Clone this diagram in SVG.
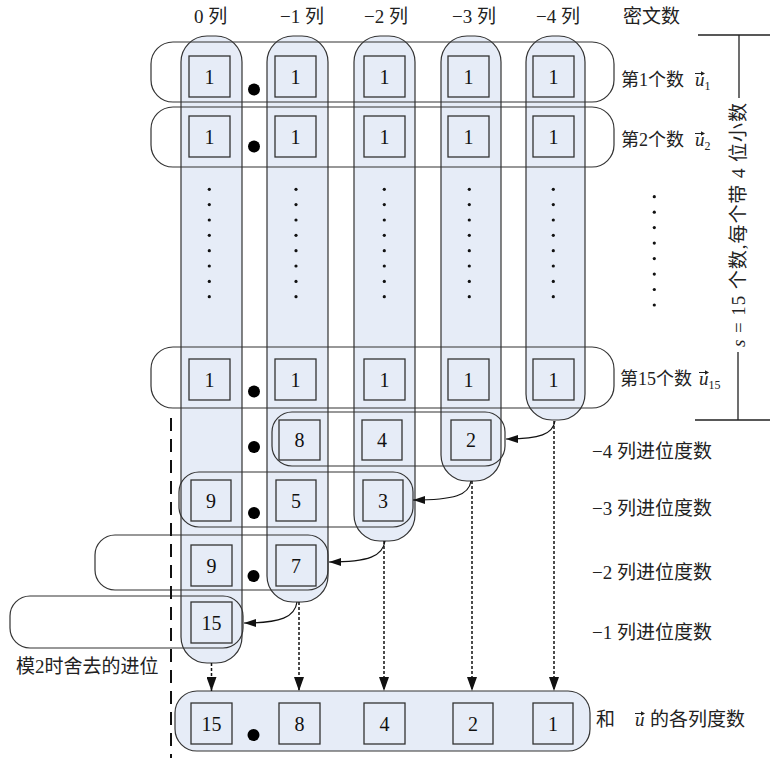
<svg xmlns="http://www.w3.org/2000/svg" width="770" height="758" viewBox="0 0 770 758">
<style>
.col{fill:#E6ECF7;stroke:#333;stroke-width:1.2}
.row{fill:none;stroke:#333;stroke-width:1.2}
.sq{fill:#E6ECF7;stroke:#333;stroke-width:1.3}
.num{font-family:"Liberation Serif","Times New Roman","DejaVu Serif",serif;font-size:20px;text-anchor:middle;fill:#111}
.lbl{font-family:"Liberation Serif","Times New Roman","Noto Sans CJK SC",serif;font-size:19px;fill:#222}
.rl{font-size:18px}
.it{font-style:italic}
.sub{font-size:12px}
.bul{fill:#000}
.ell{fill:#111}
.vec{stroke:#222;stroke-width:1;fill:none}
.vh{fill:#222}
.dotted{stroke:#111;stroke-width:1.5;stroke-dasharray:3 2;fill:none}
.curve{stroke:#111;stroke-width:1.2;fill:none}
.line{stroke:#222;stroke-width:1.3;fill:none}
</style>
<defs>
<marker id="ah" viewBox="0 0 14 10" refX="14" refY="5" markerWidth="14" markerHeight="10" orient="auto" markerUnits="userSpaceOnUse"><path d="M0,0 L14,5 L0,10 z" fill="#111"/></marker>
<marker id="ahs" viewBox="0 0 12 8" refX="12" refY="4" markerWidth="12" markerHeight="8" orient="auto" markerUnits="userSpaceOnUse"><path d="M0,0 L12,4 L0,8 z" fill="#111"/></marker>
</defs>

<!-- headers -->
<g id="headers" class="lbl">
<text x="194" y="23">0 列</text>
<text x="280" y="23">−1 列</text>
<text x="364" y="23">−2 列</text>
<text x="452" y="23">−3 列</text>
<text x="536" y="23">−4 列</text>
<text x="623" y="23">密文数</text>
</g>

<!-- column capsules -->
<g id="col0"><rect class="col" x="181" y="36" width="61" height="627" rx="26"/></g>
<g id="col-1"><rect class="col" x="267" y="36" width="61" height="566" rx="26"/></g>
<g id="col-2"><rect class="col" x="354" y="36" width="61" height="505" rx="26"/></g>
<g id="col-3"><rect class="col" x="441" y="36" width="60" height="445" rx="26"/></g>
<g id="col-4"><rect class="col" x="526" y="36" width="59" height="384" rx="26"/></g>

<!-- result capsule -->
<g id="result">
<rect class="col" x="175" y="691" width="415" height="60" rx="22"/>
<rect class="sq" x="191" y="703" width="41" height="41"/><text class="num" x="211.5" y="730.5">15</text>
<rect class="sq" x="279" y="703" width="41" height="41"/><text class="num" x="299.5" y="730.5">8</text>
<rect class="sq" x="364" y="703" width="41" height="41"/><text class="num" x="384.5" y="730.5">4</text>
<rect class="sq" x="453" y="703" width="40" height="41"/><text class="num" x="473" y="730.5">2</text>
<rect class="sq" x="533" y="703" width="40" height="41"/><text class="num" x="553" y="730.5">1</text>
<circle class="bul" cx="253.5" cy="735" r="6"/>
<text class="lbl" x="596" y="726">和</text>
<text class="lbl it" x="635" y="726">u</text>
<path class="vec" d="M635,713.5 H642"/><path class="vh" d="M645,713.5 l-4,-2.2 v4.4 z"/>
<text class="lbl" x="650" y="726">的各列度数</text>
</g>

<!-- row 1 -->
<g id="row1">
<rect class="row" x="151" y="42" width="463" height="60" rx="22"/>
<rect class="sq" x="189" y="56" width="41" height="41"/><text class="num" x="209.5" y="83.5">1</text>
<rect class="sq" x="275" y="56" width="41" height="41"/><text class="num" x="295.5" y="83.5">1</text>
<rect class="sq" x="364" y="56" width="41" height="41"/><text class="num" x="384.5" y="83.5">1</text>
<rect class="sq" x="448" y="56" width="41" height="41"/><text class="num" x="468.5" y="83.5">1</text>
<rect class="sq" x="533" y="56" width="41" height="41"/><text class="num" x="553.5" y="83.5">1</text>
<circle class="bul" cx="254" cy="89.5" r="6"/>
<text class="lbl rl" x="621" y="86">第1个数</text>
<text class="lbl" x="695" y="86"><tspan class="it">u</tspan><tspan class="sub" dy="4">1</tspan></text>
<path class="vec" d="M695,73.5 H702"/><path class="vh" d="M705,73.5 l-4,-2.2 v4.4 z"/>
</g>

<!-- row 2 -->
<g id="row2">
<rect class="row" x="151" y="107" width="463" height="60" rx="22"/>
<rect class="sq" x="189" y="116" width="41" height="41"/><text class="num" x="209.5" y="143.5">1</text>
<rect class="sq" x="275" y="116" width="41" height="41"/><text class="num" x="295.5" y="143.5">1</text>
<rect class="sq" x="364" y="116" width="41" height="41"/><text class="num" x="384.5" y="143.5">1</text>
<rect class="sq" x="448" y="116" width="41" height="41"/><text class="num" x="468.5" y="143.5">1</text>
<rect class="sq" x="533" y="116" width="41" height="41"/><text class="num" x="553.5" y="143.5">1</text>
<circle class="bul" cx="254" cy="146.5" r="6"/>
<text class="lbl rl" x="621" y="146">第2个数</text>
<text class="lbl" x="695" y="146"><tspan class="it">u</tspan><tspan class="sub" dy="4">2</tspan></text>
<path class="vec" d="M695,133.5 H702"/><path class="vh" d="M705,133.5 l-4,-2.2 v4.4 z"/>
</g>

<!-- vertical ellipses -->
<g id="ellipses" class="ell">
<circle cx="209.3" cy="189.3" r="1.6"/><circle cx="209.3" cy="204.6" r="1.6"/><circle cx="209.3" cy="220" r="1.6"/><circle cx="209.3" cy="235.3" r="1.6"/><circle cx="209.3" cy="250.7" r="1.6"/><circle cx="209.3" cy="266" r="1.6"/><circle cx="209.3" cy="281.4" r="1.6"/><circle cx="209.3" cy="296.7" r="1.6"/>
<circle cx="296" cy="189.3" r="1.6"/><circle cx="296" cy="204.6" r="1.6"/><circle cx="296" cy="220" r="1.6"/><circle cx="296" cy="235.3" r="1.6"/><circle cx="296" cy="250.7" r="1.6"/><circle cx="296" cy="266" r="1.6"/><circle cx="296" cy="281.4" r="1.6"/><circle cx="296" cy="296.7" r="1.6"/>
<circle cx="384.3" cy="189.3" r="1.6"/><circle cx="384.3" cy="204.6" r="1.6"/><circle cx="384.3" cy="220" r="1.6"/><circle cx="384.3" cy="235.3" r="1.6"/><circle cx="384.3" cy="250.7" r="1.6"/><circle cx="384.3" cy="266" r="1.6"/><circle cx="384.3" cy="281.4" r="1.6"/><circle cx="384.3" cy="296.7" r="1.6"/>
<circle cx="469.3" cy="189.3" r="1.6"/><circle cx="469.3" cy="204.6" r="1.6"/><circle cx="469.3" cy="220" r="1.6"/><circle cx="469.3" cy="235.3" r="1.6"/><circle cx="469.3" cy="250.7" r="1.6"/><circle cx="469.3" cy="266" r="1.6"/><circle cx="469.3" cy="281.4" r="1.6"/><circle cx="469.3" cy="296.7" r="1.6"/>
<circle cx="553.3" cy="189.3" r="1.6"/><circle cx="553.3" cy="204.6" r="1.6"/><circle cx="553.3" cy="220" r="1.6"/><circle cx="553.3" cy="235.3" r="1.6"/><circle cx="553.3" cy="250.7" r="1.6"/><circle cx="553.3" cy="266" r="1.6"/><circle cx="553.3" cy="281.4" r="1.6"/><circle cx="553.3" cy="296.7" r="1.6"/>
<circle cx="654.3" cy="196.7" r="1.6"/><circle cx="654.3" cy="212.2" r="1.6"/><circle cx="654.3" cy="227.6" r="1.6"/><circle cx="654.3" cy="243.1" r="1.6"/><circle cx="654.3" cy="258.6" r="1.6"/><circle cx="654.3" cy="274.1" r="1.6"/><circle cx="654.3" cy="289.5" r="1.6"/><circle cx="654.3" cy="305" r="1.6"/>
</g>

<!-- row 15 -->
<g id="row15">
<rect class="row" x="151" y="347" width="463" height="61" rx="22"/>
<rect class="sq" x="189" y="359" width="41" height="41"/><text class="num" x="209.5" y="386.5">1</text>
<rect class="sq" x="275" y="359" width="41" height="41"/><text class="num" x="295.5" y="386.5">1</text>
<rect class="sq" x="364" y="359" width="41" height="41"/><text class="num" x="384.5" y="386.5">1</text>
<rect class="sq" x="448" y="359" width="41" height="41"/><text class="num" x="468.5" y="386.5">1</text>
<rect class="sq" x="533" y="359" width="41" height="41"/><text class="num" x="553.5" y="386.5">1</text>
<circle class="bul" cx="254" cy="391.5" r="6"/>
<text class="lbl rl" x="620" y="385">第15个数</text>
<text class="lbl" x="699" y="385"><tspan class="it">u</tspan><tspan class="sub" dy="4">15</tspan></text>
<path class="vec" d="M699,372.5 H706"/><path class="vh" d="M709,372.5 l-4,-2.2 v4.4 z"/>
</g>

<!-- carry rows -->
<g id="carry4">
<rect class="row" x="272" y="412" width="233" height="54" rx="20"/>
<rect class="sq" x="279" y="420" width="41" height="40"/><text class="num" x="299.5" y="447">8</text>
<rect class="sq" x="362" y="420" width="40" height="40"/><text class="num" x="382" y="447">4</text>
<rect class="sq" x="451" y="420" width="40" height="40"/><text class="num" x="471" y="447">2</text>
<circle class="bul" cx="254" cy="447" r="6"/>
<text class="lbl" x="592" y="458">−4 列进位度数</text>
</g>
<g id="carry3">
<rect class="row" x="179" y="472" width="234" height="55" rx="20"/>
<rect class="sq" x="191" y="480" width="40" height="41"/><text class="num" x="211" y="507.5">9</text>
<rect class="sq" x="276" y="480" width="40" height="41"/><text class="num" x="296" y="507.5">5</text>
<rect class="sq" x="363" y="480" width="40" height="41"/><text class="num" x="383" y="507.5">3</text>
<circle class="bul" cx="254" cy="513" r="6"/>
<text class="lbl" x="592" y="515">−3 列进位度数</text>
</g>
<g id="carry2">
<rect class="row" x="95" y="535" width="233" height="55" rx="20"/>
<rect class="sq" x="191" y="545" width="41" height="41"/><text class="num" x="211.5" y="572.5">9</text>
<rect class="sq" x="276" y="545" width="40" height="41"/><text class="num" x="296" y="572.5">7</text>
<circle class="bul" cx="253.5" cy="576" r="6"/>
<text class="lbl" x="592" y="579">−2 列进位度数</text>
</g>
<g id="carry1">
<rect class="row" x="10" y="596" width="233" height="52" rx="20"/>
<rect class="sq" x="191" y="602" width="41" height="41"/><text class="num" x="211.5" y="629.5">15</text>
<text class="lbl" x="592" y="639">−1 列进位度数</text>
</g>

<g id="discard-label">
<text class="lbl" x="16" y="673">模2时舍去的进位</text>
</g>

<!-- bracket -->
<g id="bracket">
<path class="line" d="M698,35 H770 M739,35 V98 M695,420 H770 M738,352 V420"/>
<text class="lbl" x="738" y="231.5" text-anchor="middle" textLength="244" lengthAdjust="spacing" transform="rotate(-90 738 225)"><tspan class="it">s</tspan> = 15 个数,每个带 4 位小数</text>
</g>

<!-- connectors -->
<g id="connectors">
<path class="curve" d="M555,421 C553,434 540,439 506,439" marker-end="url(#ahs)"/>
<path class="curve" d="M471,481 C469,495 455,500 413,500" marker-end="url(#ahs)"/>
<path class="curve" d="M385,541 C383,556 369,562 329,562" marker-end="url(#ahs)"/>
<path class="curve" d="M297,602 C295,617 281,623 244,623" marker-end="url(#ahs)"/>
<path class="dotted" d="M211.5,663 V691" marker-end="url(#ah)"/>
<path class="dotted" d="M299,602 V691" marker-end="url(#ah)"/>
<path class="dotted" d="M384,541 V691" marker-end="url(#ah)"/>
<path class="dotted" d="M472,481 V691" marker-end="url(#ah)"/>
<path class="dotted" d="M554,421 V691" marker-end="url(#ah)"/>
<path d="M171,418 V758" stroke="#111" stroke-width="2" stroke-dasharray="13 8" fill="none"/>
</g>
</svg>
